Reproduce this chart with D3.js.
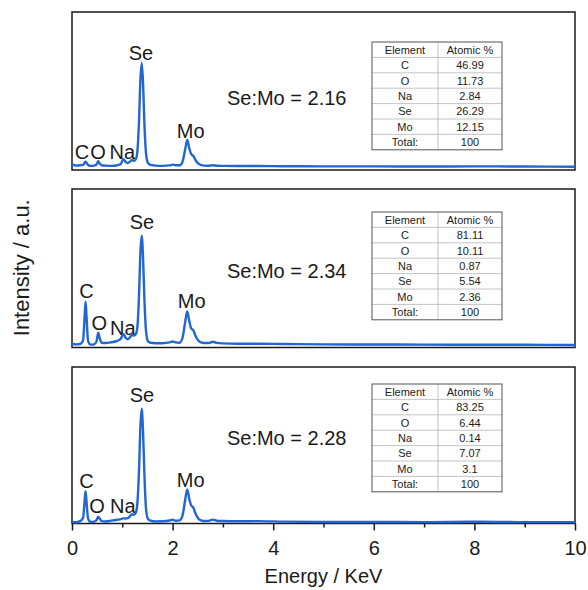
<!DOCTYPE html>
<html>
<head>
<meta charset="utf-8">
<script src="https://cdn.jsdelivr.net/npm/d3@7"></script>
<style>
  body { margin: 0; background: #fff; }
  text { font-family: "Liberation Sans", Arial, sans-serif; fill: #1a1a1a; }
</style>
</head>
<body>
<div id="chart"></div>
<script>
// energy axis (keV), shared by the three spectra
var energy = [
  0, 0.08, 0.16, 0.22, 0.25, 0.27, 0.29, 0.32, 0.37, 0.44,
  0.49, 0.52, 0.55, 0.59, 0.66, 0.78, 0.9, 0.97, 1.02, 1.07,
  1.11, 1.15, 1.19, 1.23, 1.27, 1.30, 1.33, 1.36, 1.385, 1.41,
  1.44, 1.47, 1.51, 1.56, 1.66, 1.8, 1.94, 2.0, 2.06, 2.14,
  2.2, 2.25, 2.29, 2.33, 2.37, 2.41, 2.46, 2.53, 2.62, 2.72,
  2.8, 2.88, 3.0, 3.3, 3.7, 4.2, 5, 6, 7, 8,
  9, 10];

// intensities (a.u., 0-100 of panel height)
var intensity1 = [
  3.5, 2.8, 3.0, 3.3, 4.5, 5.3, 4.5, 3.2, 2.6, 2.8,
  3.6, 5.5, 4.2, 3.0, 2.8, 2.6, 3.0, 3.8, 6.8, 5.0,
  4.4, 5.2, 6.3, 5.8, 7.0, 12, 29, 57, 67.7, 57,
  29, 11, 4.5, 3.2, 2.8, 2.6, 2.9, 3.4, 3.0, 3.0,
  5.5, 13, 19, 14, 10, 9, 6, 3.6, 2.8, 2.7,
  3.0, 2.7, 2.6, 2.5, 2.5, 2.4, 2.3, 2.3, 2.2, 2.3,
  2.2, 2.1];
var intensity2 = [
  2.5, 2.0, 2.2, 4.5, 19, 29, 19, 4, 1.8, 2.0,
  4, 9.4, 6, 3, 2.8, 3.3, 4.2, 5.5, 8.5, 6,
  5.2, 6.3, 7.9, 7.5, 8.5, 13, 31, 60, 70.6, 59,
  30, 11, 4, 3, 2.7, 2.7, 3.2, 3.8, 3.2, 3.0,
  6.5, 16, 22.7, 17, 12, 11, 7, 3.8, 2.8, 2.8,
  3.6, 2.9, 2.6, 2.4, 2.4, 2.2, 2.0, 1.9, 1.8, 1.7,
  1.7, 1.6];
var intensity3 = [
  1.0, 0.8, 1.5, 3.5, 14, 20.7, 13.5, 3, 1.0, 1.2,
  2.2, 4.3, 3.2, 1.5, 1.3, 1.8, 2.4, 2.8, 3.3, 3.2,
  3.4, 4.5, 6, 5.5, 7, 13, 32, 62, 73.4, 61,
  31, 10, 3, 1.8, 1.3, 1.4, 1.9, 2.4, 1.8, 2.0,
  5.5, 15, 21.8, 16, 11.5, 10.3, 6, 2.5, 1.6, 1.7,
  2.5, 1.8, 1.6, 1.4, 1.5, 1.2, 1.0, 1.0, 0.9, 1.1,
  0.9, 0.9];

// peak labels: [text, energy, intensity] for each panel
var peakLabels1 = [["C", 0.2, 7], ["O", 0.52, 7], ["Na", 1.0, 7], ["Se", 1.37, 69.6], ["Mo", 2.36, 20.3]];
var peakLabels2 = [["C", 0.29, 31.2], ["O", 0.54, 11], ["Na", 1.01, 7.9], ["Se", 1.39, 74.8], ["Mo", 2.38, 24.9]];
var peakLabels3 = [["C", 0.29, 22.7], ["O", 0.5, 6.9], ["Na", 1.01, 6.9], ["Se", 1.39, 77.8], ["Mo", 2.36, 23.5]];

var ratios = ["2.16", "2.34", "2.28"];

// composition tables
var tableHeader = ["Element", "Atomic %"];
var elements = ["C", "O", "Na", "Se", "Mo", "Total:"];
var atomic1 = ["46.99", "11.73", "2.84", "26.29", "12.15", "100"];
var atomic2 = ["81.11", "10.11", "0.87", "5.54", "2.36", "100"];
var atomic3 = ["83.25", "6.44", "0.14", "7.07", "3.1", "100"];

var xTicks = [0, 2, 4, 6, 8, 10];
var xMinorTicks = [1, 3, 5, 7, 9];

var lineColor = "#2266d4";

var svg = d3.select("#chart")
  .append("svg")
  .attr("width", 588)
  .attr("height", 590);

var x = d3.scaleLinear().domain([0, 10]).range([72, 575]);

var panels = [
  {top: 12, bottom: 170, values: intensity1, labels: peakLabels1, atomic: atomic1, tableTop: 42},
  {top: 189, bottom: 347.5, values: intensity2, labels: peakLabels2, atomic: atomic2, tableTop: 212},
  {top: 367, bottom: 523.5, values: intensity3, labels: peakLabels3, atomic: atomic3, tableTop: 384}
];

var rowH = 15.4, colL = 372, colM = 438, colR = 502;

panels.forEach(function(p, i) {
  var y = d3.scaleLinear().domain([0, 100]).range([p.bottom, p.top]);
  var g = svg.append("g");

  // frame
  g.append("rect")
    .attr("x", x(0)).attr("y", p.top)
    .attr("width", x(10) - x(0)).attr("height", p.bottom - p.top)
    .attr("fill", "none").attr("stroke", "#1a1a1a").attr("stroke-width", 1.5);

  // table
  var tb = g.append("g");
  var rows = [tableHeader].concat(elements.map(function(e, k) { return [e, p.atomic[k]]; }));
  var tH = rowH * rows.length;
  for (var r = 1; r < rows.length; r++) {
    tb.append("line")
      .attr("x1", colL).attr("x2", colR)
      .attr("y1", p.tableTop + r * rowH).attr("y2", p.tableTop + r * rowH)
      .attr("stroke", "#b5b5b5").attr("stroke-width", 0.8);
  }
  tb.append("line")
    .attr("x1", colM).attr("x2", colM)
    .attr("y1", p.tableTop).attr("y2", p.tableTop + tH)
    .attr("stroke", "#b5b5b5").attr("stroke-width", 0.8);
  tb.append("rect")
    .attr("x", colL).attr("y", p.tableTop)
    .attr("width", colR - colL).attr("height", tH)
    .attr("fill", "none").attr("stroke", "#555").attr("stroke-width", 1);
  rows.forEach(function(row, r) {
    tb.append("text")
      .attr("x", (colL + colM) / 2).attr("y", p.tableTop + r * rowH + rowH / 2 + 4)
      .attr("text-anchor", "middle").style("font-size", "11px")
      .text(row[0]);
    tb.append("text")
      .attr("x", (colM + colR) / 2).attr("y", p.tableTop + r * rowH + rowH / 2 + 4)
      .attr("text-anchor", "middle").style("font-size", "11px")
      .text(row[1]);
  });

  // ratio
  g.append("text")
    .attr("x", x(3.08)).attr("y", y([41, 43.8, 50.2][i]))
    .style("font-size", "20px")
    .text("Se:Mo = " + ratios[i]);

  // peak labels
  p.labels.forEach(function(l) {
    g.append("text")
      .attr("x", x(l[1])).attr("y", y(l[2]))
      .attr("text-anchor", "middle")
      .style("font-size", "20px")
      .text(l[0]);
  });

  // spectrum
  var line = d3.line()
    .x(function(d, k) { return x(energy[k]); })
    .y(function(d) { return y(d); })
    .curve(d3.curveMonotoneX);
  g.append("path")
    .datum(p.values)
    .attr("d", line)
    .attr("fill", "none")
    .attr("stroke", lineColor)
    .attr("stroke-width", 2.4)
    .attr("stroke-linejoin", "round");
});

// x axis on the bottom panel
var axisY = panels[2].bottom;
var xAxis = svg.append("g")
  .attr("transform", "translate(0," + axisY + ")")
  .call(d3.axisBottom(x).tickValues(xTicks).tickSize(7).tickPadding(10).tickSizeOuter(0));
xAxis.select(".domain").remove();
xAxis.selectAll("line").attr("stroke", "#1a1a1a").attr("stroke-width", 1.5);
xAxis.selectAll("text").style("font-size", "20px").attr("fill", "#1a1a1a")
  .style("font-family", "Liberation Sans, Arial, sans-serif");

var xMinor = svg.append("g")
  .attr("transform", "translate(0," + axisY + ")")
  .call(d3.axisBottom(x).tickValues(xMinorTicks).tickSize(4).tickFormat(""));
xMinor.select(".domain").remove();
xMinor.selectAll("line").attr("stroke", "#1a1a1a").attr("stroke-width", 1.5);

// axis titles
svg.append("text")
  .attr("x", (x(0) + x(10)) / 2).attr("y", 583)
  .attr("text-anchor", "middle")
  .style("font-size", "20px")
  .text("Energy / KeV");

svg.append("text")
  .attr("transform", "translate(29," + ((panels[0].top + panels[2].bottom) / 2) + ") rotate(-90)")
  .attr("text-anchor", "middle")
  .style("font-size", "22px")
  .text("Intensity / a.u.");
</script>
</body>
</html>
